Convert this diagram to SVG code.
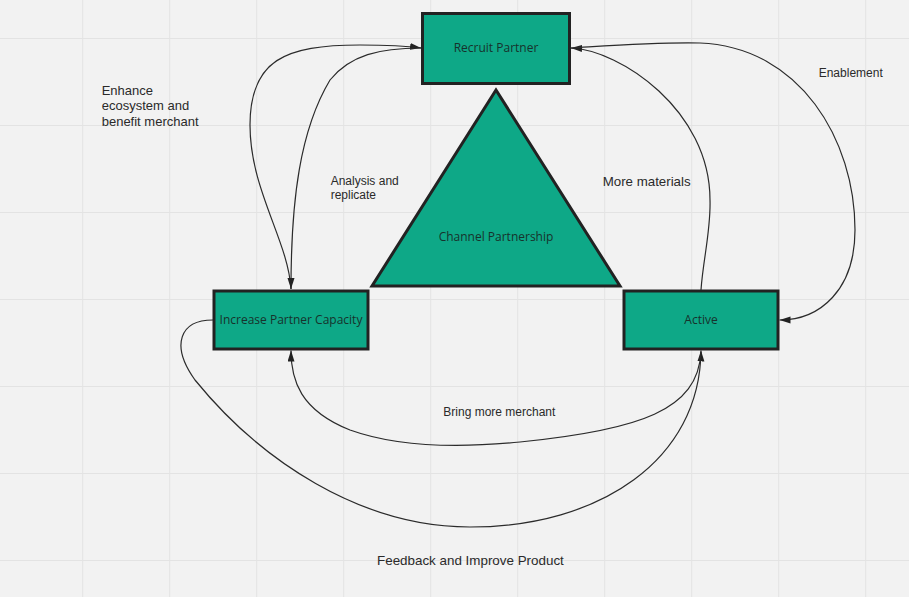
<svg xmlns="http://www.w3.org/2000/svg" width="909" height="597" viewBox="0 0 909 597">
<style>
.grid line{stroke:#e3e3e3;stroke-width:1}
.node{fill:#0ea887;stroke:#222;stroke-width:3}
.ntext{font-family:"Open Sans","Noto Sans",sans-serif;font-size:12px;fill:#17322c;text-anchor:middle}
.lbl{font-family:"Liberation Sans",Arial,sans-serif;fill:#2a2a2a}
.conn path{fill:none;stroke:#2b2b2b;stroke-width:1.2}
</style>
<defs>
<marker id="arr" markerUnits="userSpaceOnUse" markerWidth="12" markerHeight="8" refX="11" refY="3.5" orient="auto">
<path d="M0,0 L11,3.5 L0,7 z" fill="#222"/>
</marker>
</defs>
<rect width="909" height="597" fill="#f2f2f2"/>
<g class="grid">
<line x1="82.7" y1="0" x2="82.7" y2="597"/>
<line x1="169.7" y1="0" x2="169.7" y2="597"/>
<line x1="256.7" y1="0" x2="256.7" y2="597"/>
<line x1="343.7" y1="0" x2="343.7" y2="597"/>
<line x1="430.7" y1="0" x2="430.7" y2="597"/>
<line x1="517.7" y1="0" x2="517.7" y2="597"/>
<line x1="604.7" y1="0" x2="604.7" y2="597"/>
<line x1="691.7" y1="0" x2="691.7" y2="597"/>
<line x1="778.7" y1="0" x2="778.7" y2="597"/>
<line x1="865.7" y1="0" x2="865.7" y2="597"/>
<line x1="0" y1="38.5" x2="909" y2="38.5"/>
<line x1="0" y1="125.5" x2="909" y2="125.5"/>
<line x1="0" y1="212.5" x2="909" y2="212.5"/>
<line x1="0" y1="299.5" x2="909" y2="299.5"/>
<line x1="0" y1="386.5" x2="909" y2="386.5"/>
<line x1="0" y1="473.5" x2="909" y2="473.5"/>
<line x1="0" y1="560.5" x2="909" y2="560.5"/>
</g>
<g id="channel-partnership">
<polygon class="node" points="496,90 372,286 620,286"/>
<text class="ntext" x="496" y="241">Channel Partnership</text>
</g>
<g id="recruit-partner">
<rect class="node" x="422.5" y="13.5" width="147" height="70"/>
<text class="ntext" x="496" y="51.5">Recruit Partner</text>
</g>
<g id="increase-partner-capacity">
<rect class="node" x="214" y="291" width="154" height="58"/>
<text class="ntext" x="291" y="323.5">Increase Partner Capacity</text>
</g>
<g id="active">
<rect class="node" x="624" y="291" width="154" height="58"/>
<text class="ntext" x="701" y="323.5">Active</text>
</g>
<g class="conn">
<path marker-end="url(#arr)" d="M291,289 C288,240 250,190 250,125 C250,60 285,45 360,45 Q400,45 421,48"/>
<path marker-end="url(#arr)" d="M421,48 C380,48 350,55 330,80 C300,130 291,200 291,289"/>
<path marker-end="url(#arr)" d="M701,290 C703,260 711,230 710,200 C710,110 620,50 571,48"/>
<path marker-end="url(#arr)" d="M571,48 C620,45 660,42 700,43 C800,47 855,140 855,230 C855,290 820,320 779.5,320"/>
<path marker-end="url(#arr)" d="M213,320 C180,320 170,345 195,380 C260,460 360,527 470,527 C600,527 700,460 701,350.5"/>
<path marker-end="url(#arr)" d="M701,352 C698,410 640,430 520,442 C460,448 400,448 350,430 C300,410 291,380 291,350.5"/>
</g>
<g id="labels">
<text class="lbl" font-size="13" x="101.7" y="95">Enhance</text>
<text class="lbl" font-size="13" x="101.7" y="110.3">ecosystem and</text>
<text class="lbl" font-size="13" x="101.7" y="125.7">benefit merchant</text>
<text class="lbl" font-size="12" x="330.7" y="185">Analysis and</text>
<text class="lbl" font-size="12" x="330.7" y="199">replicate</text>
<text class="lbl" font-size="13.3" x="602.7" y="186">More materials</text>
<text class="lbl" font-size="12" x="818.7" y="76.5">Enablement</text>
<text class="lbl" font-size="12" x="443.3" y="416">Bring more merchant</text>
<text class="lbl" font-size="13.4" x="377" y="565">Feedback and Improve Product</text>
</g>
</svg>
